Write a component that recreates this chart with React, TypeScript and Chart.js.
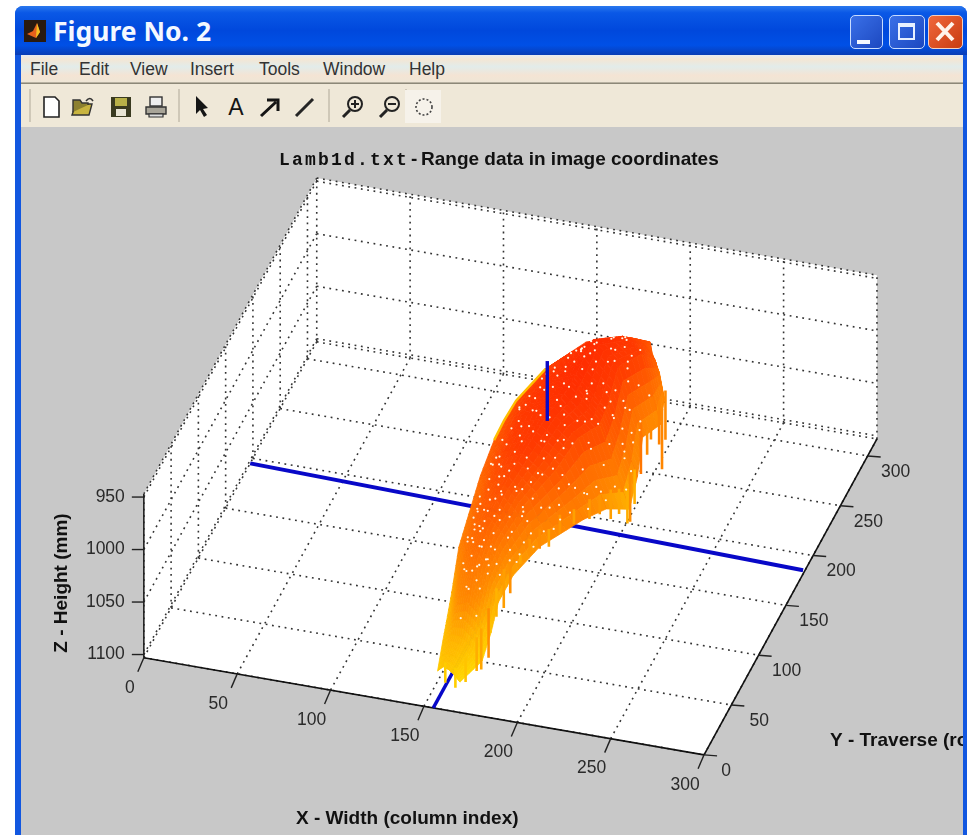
import React, { useEffect, useRef } from "react";
import { Chart, registerables } from "chart.js";

Chart.register(...registerables);

// ---------- axes ----------
const xTicks = [0, 50, 100, 150, 200, 250, 300];
const yTicks = [0, 50, 100, 150, 200, 250, 300];
const zTicks = [950, 1000, 1050, 1100];
const xMax = 300;
const yMax = 317;
const zFloor = 1103;
const zTop = 947;

// ---------- range surface: rows from the back (large Y) to the front ----------
const scanY = [288, 280, 262, 240, 210, 195, 180, 155, 130, 105, 85, 65, 45, 25];
const scanX = [
  [185, 187, 188, 190, 192],
  [175, 181, 186, 192, 197],
  [160, 170, 180, 190, 200],
  [145, 158, 171, 184, 197],
  [138, 155, 171, 187, 203],
  [136, 152, 170, 187, 203],
  [135, 150, 165, 180, 195],
  [135, 147, 160, 175, 190],
  [136, 145, 155, 165, 174],
  [138, 145, 152, 160, 167],
  [140, 146, 152, 159, 165],
  [143, 149, 155, 161, 167],
  [147, 152, 157, 162, 168],
  [150, 153, 156, 159, 162],
];
const scanZ = [
  [1019, 1018, 1028, 1037, 1046],
  [1009, 1009, 1013, 1026, 1062],
  [1002, 997, 990, 1004, 1068],
  [1011, 992, 975, 997, 1060],
  [1015, 988, 976, 1004, 1067],
  [1020, 992, 980, 1009, 1084],
  [1025, 997, 988, 1009, 1072],
  [1035, 1009, 999, 1018, 1060],
  [1048, 1024, 1014, 1032, 1067],
  [1055, 1037, 1029, 1045, 1073],
  [1079, 1051, 1042, 1056, 1080],
  [1087, 1063, 1056, 1067, 1089],
  [1084, 1077, 1078, 1086, 1097],
  [1093, 1088, 1090, 1094, 1100],
];

// ---------- hanging scan ends along the lower edge of the surface ----------
const spikeY = [230, 245, 255, 200, 195, 190, 185, 175, 170, 162, 150, 140, 130, 122, 115, 100, 95, 85, 50, 40, 35, 25, 20, 22, 215, 238, 260, 275];
const spikeX = [199, 200, 203, 202, 202, 199, 196, 193, 189, 183, 179, 176, 174, 171, 168, 167, 165, 164, 170, 169, 168, 165, 161, 155, 200, 200, 200, 199];
const spikeZTop = [1033, 1047, 1046, 1051, 1065, 1061, 1058, 1054, 1055, 1059, 1054, 1059, 1050, 1053, 1061, 1052, 1058, 1067, 1051, 1061, 1065, 1076, 1082, 1081, 1066, 1050, 1043, 1048];
const spikeZBottom = [1085, 1066, 1103, 1101, 1098, 1085, 1086, 1073, 1074, 1073, 1072, 1076, 1069, 1067, 1071, 1085, 1095, 1094, 1098, 1100, 1097, 1099, 1101, 1100, 1099, 1074, 1085, 1095];

// ---------- white gaps in the mesh: Y value and position across the row ----------
const gapY = [262, 255, 250, 248, 244, 240, 236, 232, 228, 226, 222, 220, 216, 214, 210, 207, 204, 201, 198, 196, 193, 190, 188, 185, 182, 180, 177, 174, 172, 169, 166, 164, 161, 158, 156, 153, 150, 148, 145, 142, 140, 137, 134, 131, 129, 126, 123, 120, 118, 115, 112, 109, 106, 103, 100, 97, 94, 91, 88, 85, 82, 78, 74, 70, 255, 246, 238, 230, 224, 218, 212, 206, 200, 194, 186, 178, 170, 162, 154, 146, 138, 130, 122, 114, 106, 98, 90, 252, 242, 234, 226, 219, 211, 203, 197, 191, 183, 175, 168, 160, 152, 144, 136, 128, 124, 116, 108, 100, 258, 247, 233, 221, 209, 199, 187, 179, 171, 163, 155, 147, 139, 133, 125, 117, 110, 102, 92, 83,
  268, 265, 259, 253, 249, 243, 237, 231, 227, 223, 217, 213, 208, 205, 202, 198, 195, 192, 189, 184, 181, 176, 173, 167, 165, 159, 157, 151, 149, 143, 141, 135, 132, 127, 121, 119, 113, 107, 101, 96, 264, 256, 251, 241, 235, 229, 225, 215, 207, 201, 193, 185, 177, 169, 161, 153, 145, 137, 129, 123, 115, 105, 99, 93, 86, 80, 76, 68, 60, 54, 246, 239, 221, 211, 196, 182, 172, 164, 156, 148, 140, 134, 126, 118, 111, 104, 95, 87];
const gapU = [0.55, 0.72, 0.38, 0.62, 0.81, 0.47, 0.66, 0.29, 0.58, 0.77, 0.41, 0.68, 0.86, 0.52, 0.33, 0.74, 0.61, 0.44, 0.82, 0.56, 0.27, 0.69, 0.48, 0.78, 0.36, 0.63, 0.52, 0.84, 0.3, 0.71, 0.46, 0.58, 0.24, 0.79, 0.64, 0.39, 0.54, 0.88, 0.31, 0.67, 0.45, 0.76, 0.59, 0.28, 0.83, 0.5, 0.37, 0.69, 0.57, 0.42, 0.78, 0.26, 0.63, 0.48, 0.72, 0.35, 0.55, 0.66, 0.41, 0.6, 0.3, 0.5, 0.68, 0.42, 0.5, 0.6, 0.33, 0.85, 0.49, 0.25, 0.61, 0.91, 0.36, 0.7, 0.53, 0.43, 0.65, 0.87, 0.22, 0.59, 0.35, 0.75, 0.46, 0.62, 0.38, 0.55, 0.72, 0.84, 0.23, 0.54, 0.92, 0.35, 0.8, 0.24, 0.5, 0.93, 0.32, 0.74, 0.57, 0.4, 0.82, 0.47, 0.65, 0.9, 0.22, 0.78, 0.45, 0.3, 0.42, 0.77, 0.41, 0.58, 0.88, 0.3, 0.66, 0.92, 0.38, 0.56, 0.73, 0.27, 0.83, 0.62, 0.52, 0.34, 0.85, 0.44, 0.68, 0.57,
  0.66, 0.44, 0.89, 0.3, 0.75, 0.95, 0.42, 0.83, 0.2, 0.94, 0.72, 0.38, 0.9, 0.6, 0.16, 0.96, 0.74, 0.2, 0.86, 0.58, 0.94, 0.18, 0.68, 0.91, 0.34, 0.84, 0.16, 0.94, 0.7, 0.86, 0.2, 0.94, 0.4, 0.78, 0.9, 0.22, 0.55, 0.9, 0.2, 0.8, 0.5, 0.62, 0.18, 0.7, 0.88, 0.52, 0.14, 0.76, 0.96, 0.62, 0.14, 0.8, 0.24, 0.92, 0.7, 0.15, 0.94, 0.42, 0.77, 0.18, 0.93, 0.3, 0.66, 0.52, 0.75, 0.36, 0.6, 0.48, 0.72, 0.4, 0.28, 0.97, 0.13, 0.79, 0.12, 0.97, 0.12, 0.97, 0.11, 0.67, 0.96, 0.13, 0.97, 0.16, 0.95, 0.18, 0.88, 0.24];

// ---------- guide lines: [x, y, z] ends ----------
const crossLineX = [[0, 195, 1103], [299, 185, 1103]];
const crossLineY = [[155, 0, 1103], [155, 209, 1103]];
const crossLineZ = [[155, 209, 1028], [155, 209, 971]];

// ---------- text ----------
const titleMono = "Lamb1d.txt";
const titleRest = "Range data in image coordinates";
const xLabel = "X - Width (column index)";
const yLabel = "Y - Traverse (row index)";
const zLabel = "Z - Height (mm)";
const menuItems = ["File", "Edit", "View", "Insert", "Tools", "Window", "Help"];

// The MATLAB view: an orthographic projection of axis units onto the page.
const project = (x: number, y: number, z: number) => ({
  x: 141 + 1.883 * x + 0.55 * y,
  y: 660 + 0.327 * x - 1.006 * y - (zFloor - z) * 1.06,
});

const hotStops: [number, number[]][] = [
  [0, [255, 216, 0]],
  [0.15, [255, 184, 0]],
  [0.3, [255, 140, 0]],
  [0.55, [255, 100, 0]],
  [0.78, [255, 60, 0]],
  [1, [255, 44, 0]],
];
const hotRgb = (z: number) => {
  const t = Math.max(0, Math.min(1, (1100 - z) / 125));
  for (let i = 1; i < hotStops.length; i++) {
    if (t <= hotStops[i][0]) {
      const [a, ca] = hotStops[i - 1];
      const [b, cb] = hotStops[i];
      const f = (t - a) / (b - a);
      return ca.map((c, k) => Math.round(c + (cb[k] - c) * f));
    }
  }
  return hotStops[hotStops.length - 1][1];
};
const hot = (z: number) => `rgb(${hotRgb(z).join(",")})`;

const gapPoint = (y: number, u: number) => {
  let r = 0;
  while (r < scanY.length - 2 && scanY[r + 1] > y) r++;
  const f = (scanY[r] - y) / (scanY[r] - scanY[r + 1]);
  const c = u * (scanX[r].length - 1);
  const k = Math.min(Math.floor(c), scanX[r].length - 2);
  const g = c - k;
  const at = (m: number[][]) => {
    const a = m[r][k] + (m[r][k + 1] - m[r][k]) * g;
    const b = m[r + 1][k] + (m[r + 1][k + 1] - m[r + 1][k]) * g;
    return a + (b - a) * f;
  };
  return project(at(scanX), y, at(scanZ));
};

const makeDatasets = () => {
  const sets: any[] = [];
  const dotted = (a: number[], b: number[]) =>
    sets.push({
      data: [project(a[0], a[1], a[2]), project(b[0], b[1], b[2])],
      showLine: true, pointRadius: 0, borderColor: "#333333", borderWidth: 1.6, borderDash: [1.8, 4.6],
    });
  const solid = (pts: number[][], color: string, width: number) =>
    sets.push({
      data: pts.map((p) => project(p[0], p[1], p[2])),
      showLine: true, pointRadius: 0, borderColor: color, borderWidth: width, borderCapStyle: "butt",
    });

  // back wall, left wall, floor
  xTicks.forEach((x) => dotted([x, yMax, zFloor], [x, yMax, zTop]));
  [zTop, ...zTicks].forEach((z) => dotted([0, yMax, z], [xMax, yMax, z]));
  yTicks.forEach((y) => dotted([0, y, zFloor], [0, y, zTop]));
  [zTop, ...zTicks].forEach((z) => dotted([0, 0, z], [0, yMax, z]));
  xTicks.forEach((x) => dotted([x, 0, zFloor], [x, yMax, zFloor]));
  [...yTicks, yMax].forEach((y) => dotted([0, y, zFloor], [xMax, y, zFloor]));

  // axis lines and tick marks
  solid([[0, 0, zFloor], [xMax, 0, zFloor]], "#111", 1.6);
  solid([[xMax, 0, zFloor], [xMax, yMax, zFloor]], "#111", 1.6);
  solid([[0, 0, zTop], [0, 0, zFloor]], "#222", 1.6);

  solid(crossLineX, "#0808c8", 4);
  solid(crossLineY, "#0808c8", 3.4);

  // surface rows, painted back to front
  scanY.forEach((y, r) => {
    const zs = scanZ[r];
    sets.push({
      data: scanX[r].map((x, c) => project(x, y, zs[c])),
      showLine: true, pointRadius: 0, borderWidth: 1, borderColor: hot(zs[2]),
      segment: { borderColor: (ctx: any) => hot((zs[ctx.p0DataIndex] + zs[ctx.p1DataIndex]) / 2) },
      meshRow: r,
    });
  });

  // pale left rim at the back of the body
  sets.push({
    data: [3, 4, 5, 6].map((r) => project(scanX[r][0], scanY[r], scanZ[r][0])),
    showLine: true, pointRadius: 0, borderColor: "#ffbe00", borderWidth: 2.4,
  });

  spikeY.forEach((y, i) => {
    sets.push({
      data: [project(spikeX[i], y, spikeZTop[i]), project(spikeX[i], y, spikeZBottom[i])],
      showLine: true, pointRadius: 0, borderWidth: 2.6, borderColor: hot(spikeZTop[i] + 12),
    });
  });

  sets.push({
    data: gapY.map((y, i) => gapPoint(y, gapU[i])),
    showLine: false, pointRadius: 1.1, pointBackgroundColor: "#fff8e8", pointBorderWidth: 0,
  });

  solid(crossLineZ, "#0808c8", 3.4);

  sets.forEach((s, i) => (s.order = -i));
  return sets;
};

const paperPlugin = {
  id: "paper",
  beforeDatasetsDraw(chart: any) {
    const { ctx, scales } = chart;
    const corners = [
      project(0, 0, zTop), project(0, yMax, zTop), project(xMax, yMax, zTop),
      project(xMax, yMax, zFloor), project(xMax, 0, zFloor), project(0, 0, zFloor),
    ];
    ctx.save();
    ctx.fillStyle = "#ffffff";
    ctx.beginPath();
    corners.forEach((p, i) => {
      const px = scales.x.getPixelForValue(p.x);
      const py = scales.y.getPixelForValue(p.y);
      if (i) ctx.lineTo(px, py);
      else ctx.moveTo(px, py);
    });
    ctx.closePath();
    ctx.fill();
    ctx.restore();
  },
  beforeDatasetDraw(chart: any, args: any) {
    const row = chart.data.datasets[args.index].meshRow;
    if (row === undefined || row === 0) return;
    const { ctx } = chart;
    const cur = args.meta.data;
    const prev = chart.getDatasetMeta(args.index - 1).data;
    const steps = 5;
    const mix = (a: number, b: number, f: number) => a + (b - a) * f;
    ctx.save();
    ctx.lineWidth = 0.8;
    for (let c = 0; c < cur.length - 1; c++) {
      const spot = (u: number, v: number) => ({
        x: mix(mix(prev[c].x, prev[c + 1].x, u), mix(cur[c].x, cur[c + 1].x, u), v),
        y: mix(mix(prev[c].y, prev[c + 1].y, u), mix(cur[c].y, cur[c + 1].y, u), v),
        z: mix(mix(scanZ[row - 1][c], scanZ[row - 1][c + 1], u), mix(scanZ[row][c], scanZ[row][c + 1], u), v),
      });
      // colour shading only: each mesh cell is shaded smoothly between its four corners
      for (let i = 0; i < steps; i++) {
        for (let j = 0; j < steps; j++) {
          const a = spot(i / steps, j / steps);
          const b = spot((i + 1) / steps, j / steps);
          const d = spot((i + 1) / steps, (j + 1) / steps);
          const e = spot(i / steps, (j + 1) / steps);
          const color = hot((a.z + b.z + d.z + e.z) / 4);
          ctx.fillStyle = color;
          ctx.strokeStyle = color;
          ctx.beginPath();
          ctx.moveTo(a.x, a.y);
          ctx.lineTo(b.x, b.y);
          ctx.lineTo(d.x, d.y);
          ctx.lineTo(e.x, e.y);
          ctx.closePath();
          ctx.fill();
          ctx.stroke();
        }
      }
    }
    ctx.restore();
  },
  afterDatasetsDraw(chart: any) {
    const { ctx, scales } = chart;
    const sx = (v: number) => scales.x.getPixelForValue(v);
    const sy = (v: number) => scales.y.getPixelForValue(v);
    const tick = (p: { x: number; y: number }, dx: number, dy: number, color = "#222") => {
      ctx.strokeStyle = color;
      ctx.lineWidth = 1.4;
      ctx.beginPath();
      ctx.moveTo(sx(p.x), sy(p.y));
      ctx.lineTo(sx(p.x) + dx, sy(p.y) + dy);
      ctx.stroke();
    };
    ctx.save();
    ctx.textBaseline = "middle";
    ctx.fillStyle = "#2a2a2a";
    ctx.font = '17.5px "Liberation Sans"';
    ctx.textAlign = "center";
    xTicks.forEach((x) => {
      const p = project(x, 0, zFloor);
      tick(p, -6, 14);
      ctx.fillText(String(x), sx(p.x) - 19 + (x === 0 ? 5 : 0), sy(p.y) + 30);
    });
    yTicks.forEach((y) => {
      const p = project(xMax, y, zFloor);
      tick(p, 13, 1);
      ctx.fillText(String(y), sx(p.x) + 28 - (y === 0 ? 6 : 0), sy(p.y) + 16);
    });
    ctx.textAlign = "right";
    zTicks.forEach((z) => {
      const p = project(0, 0, z);
      tick(p, -12, 0);
      ctx.fillText(String(z), sx(p.x) - 19, sy(p.y));
    });

    ctx.fillStyle = "#111";
    ctx.textAlign = "left";
    ctx.font = 'bold 18px "Liberation Mono"';
    (ctx as any).letterSpacing = "2.2px";
    ctx.fillText(titleMono, 279, 160);
    (ctx as any).letterSpacing = "0px";
    ctx.font = 'bold 19px "Liberation Sans"';
    ctx.fillText("-", 411, 160);
    ctx.fillText(titleRest, 421, 160);

    ctx.font = 'bold 19px "Liberation Sans"';
    ctx.fillText(xLabel, 296, 819);
    ctx.fillText(yLabel, 830, 741);
    ctx.save();
    ctx.translate(62, 583);
    ctx.rotate(-Math.PI / 2);
    ctx.textAlign = "center";
    ctx.fillText(zLabel, 0, 0);
    ctx.restore();
    ctx.restore();
  },
};

const Icon = ({ x, children }: { x: number; children: React.ReactNode }) => (
  <svg style={{ position: "absolute", left: x - 13, top: 94, width: 26, height: 26 }} viewBox="0 0 26 26">
    {children}
  </svg>
);

const menuLeft = [30, 79, 130, 190, 259, 323, 409];

const Chrome = () => (
  <>
    <div style={{ position: "absolute", left: 15, top: 6, width: 952, height: 829, background: "#1257e0", borderRadius: "8px 8px 0 0" }} />
    <div style={{ position: "absolute", left: 15, top: 6, width: 952, height: 49, borderRadius: "8px 8px 0 0",
      background: "linear-gradient(#2a78ee 0%, #0a58e6 14%, #0048dc 50%, #0050e6 80%, #0a3cb4 100%)" }} />
    <div style={{ position: "absolute", left: 24, top: 20, width: 22, height: 22, background: "#2a1a10" }}>
      <svg viewBox="0 0 22 22" width="22" height="22">
        <path d="M3 14 L9 11 L13 3 L16 12 L12 18 Z" fill="#e8601c" />
        <path d="M13 3 L16 12 L12 18 Z" fill="#f4c020" />
      </svg>
    </div>
    <div style={{ position: "absolute", left: 53, top: 13, color: "#f4f8ff", font: 'bold 26.5px "Noto Sans"', whiteSpace: "nowrap" }}>Figure No. 2</div>
    <div style={{ position: "absolute", left: 850, top: 15, width: 33, height: 34, borderRadius: 5, border: "1.5px solid #c8dcff", background: "linear-gradient(135deg,#3a70e8,#1c48c0)", boxSizing: "border-box" }}>
      <div style={{ position: "absolute", left: 6, top: 24, width: 13, height: 4, background: "#f4f8ff" }} />
    </div>
    <div style={{ position: "absolute", left: 889, top: 15, width: 36, height: 34, borderRadius: 5, border: "1.5px solid #c8dcff", background: "linear-gradient(135deg,#3a70e8,#1c48c0)", boxSizing: "border-box" }}>
      <div style={{ position: "absolute", left: 8, top: 7, width: 17, height: 17, border: "2px solid #e8f0ff", borderTopWidth: 4, boxSizing: "border-box" }} />
    </div>
    <div style={{ position: "absolute", left: 928, top: 15, width: 35, height: 34, borderRadius: 5, border: "1.5px solid #f4d0c0", background: "linear-gradient(135deg,#f0683c,#c83c10)", boxSizing: "border-box" }}>
      <svg viewBox="0 0 32 31" width="32" height="31">
        <path d="M8 7 L24 24 M24 7 L8 24" stroke="#fff4ea" strokeWidth="4" />
      </svg>
    </div>
    <div style={{ position: "absolute", left: 21, top: 55, width: 942, height: 29,
      background: "linear-gradient(#e8eaf0 0%, #f4e6d4 14%, #e2ecea 40%, #f4e4d4 70%, #efe6d6 92%, #8c8878 97%)" }} />
    {menuItems.map((m, i) => (
      <div key={m} style={{ position: "absolute", left: menuLeft[i], top: 59, color: "#333", font: '17.5px "Liberation Sans"' }}>{m}</div>
    ))}
    <div style={{ position: "absolute", left: 21, top: 84, width: 942, height: 43, background: "#efe8d8" }} />
    <div style={{ position: "absolute", left: 21, top: 127, width: 942, height: 708, background: "#c8c8c8" }} />
    <div style={{ position: "absolute", left: 963, top: 55, width: 1, height: 780, background: "#d8c8a8" }} />
    {[29, 178, 328, 405].map((x) => (
      <div key={x} style={{ position: "absolute", left: x, top: 89, width: 2, height: 33, background: "#cfc8b8" }} />
    ))}
    <div style={{ position: "absolute", left: 405, top: 90, width: 36, height: 33, background: "#f6f2ea" }} />
    <Icon x={52}><path d="M5 3 H16 L20 7 V23 H5 Z" fill="#fff" stroke="#222" strokeWidth="1.6" /></Icon>
    <Icon x={83}><path d="M2 21 L6 10 H22 L19 21 Z" fill="#c8b440" stroke="#333" strokeWidth="1.4" /><path d="M3 18 V6 H10 L12 9 H18 V11" fill="#8c8030" stroke="#333" strokeWidth="1.4" /><path d="M16 7 Q20 2 23 7" fill="none" stroke="#333" strokeWidth="1.6" /></Icon>
    <Icon x={121}><rect x="3" y="3" width="20" height="20" fill="#3a3a20" /><rect x="7" y="4" width="12" height="8" fill="#b8b048" /><rect x="8" y="15" width="10" height="7" fill="#e8e4d4" /></Icon>
    <Icon x={156}><rect x="7" y="3" width="12" height="9" fill="#eee" stroke="#333" strokeWidth="1.4" /><path d="M3 13 H23 V20 H3 Z" fill="#a8a498" stroke="#333" strokeWidth="1.4" /><path d="M6 20 H20 V23 H6 Z" fill="#ddd" stroke="#333" strokeWidth="1.2" /></Icon>
    <Icon x={202}><path d="M7 2 L7 20 L11 16 L15 23 L18 21 L14 15 L19 14 Z" fill="#151515" /></Icon>
    <Icon x={236}><text x="13" y="21" textAnchor="middle" fontFamily="Liberation Sans" fontSize="23" fill="#151515">A</text></Icon>
    <Icon x={270}><path d="M4 22 L19 8 M10 6 H21 V17" fill="none" stroke="#151515" strokeWidth="3" /></Icon>
    <Icon x={305}><path d="M4 22 L21 5" stroke="#252525" strokeWidth="3" /></Icon>
    <Icon x={353}><circle cx="15" cy="10" r="7" fill="#efe8d8" stroke="#222" strokeWidth="2" /><path d="M10 16 L3 23" stroke="#222" strokeWidth="3" /><path d="M11 10 H19 M15 6 V14" stroke="#222" strokeWidth="2" /></Icon>
    <Icon x={390}><circle cx="15" cy="10" r="7" fill="#efe8d8" stroke="#222" strokeWidth="2" /><path d="M10 16 L3 23" stroke="#222" strokeWidth="3" /><path d="M11 10 H19" stroke="#222" strokeWidth="2" /></Icon>
    <Icon x={424}><circle cx="13" cy="13" r="8" fill="none" stroke="#444" strokeWidth="1.6" strokeDasharray="2 2" /></Icon>
  </>
);

export default function App() {
  const ref = useRef<HTMLCanvasElement>(null);
  useEffect(() => {
    document.body.style.margin = "0";
    document.body.style.background = "#fff";
    const chart = new Chart(ref.current as HTMLCanvasElement, {
      type: "scatter",
      data: { datasets: makeDatasets() },
      options: {
        animation: false,
        responsive: false,
        devicePixelRatio: 1,
        layout: { padding: 0 },
        plugins: { legend: { display: false }, tooltip: { enabled: false }, title: { display: false } },
        scales: {
          x: { type: "linear", min: 0, max: 967, display: false },
          y: { type: "linear", min: 0, max: 835, reverse: true, display: false },
        },
      },
      plugins: [paperPlugin],
    } as any);
    return () => chart.destroy();
  }, []);
  return (
    <div style={{ position: "relative", width: 967, height: 835, overflow: "hidden", filter: "blur(0.55px)" }}>
      <Chrome />
      <canvas ref={ref} width={967} height={835} style={{ position: "absolute", left: 0, top: 0 }} />
      <div style={{ position: "absolute", left: 963, top: 55, width: 4, height: 780, background: "#1257e0" }} />
    </div>
  );
}
